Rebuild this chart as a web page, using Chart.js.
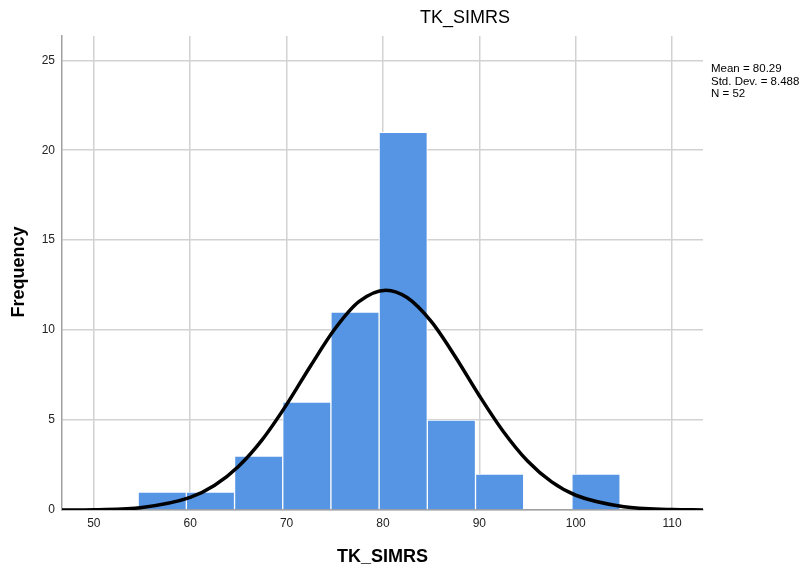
<!DOCTYPE html>
<html>
<head>
<meta charset="utf-8">
<script src="https://cdn.jsdelivr.net/npm/chart.js@4"></script>
<style>
  body { margin: 0; background: #fff; }
  canvas { display: block; }
</style>
</head>
<body>
<canvas id="myChart" width="806" height="569"></canvas>
<script>
// histogram bins (centres) and counts
const binCenters = [57.1, 62.1, 67.1, 72.1, 77.1, 82.1, 87.1, 92.1, 97.1, 102.1];
const counts = [1, 1, 3, 6, 11, 21, 5, 2, 0, 2];

// normal curve
const curveX = [46.7, 50, 55, 60, 62.5, 65, 67.5, 70, 72.5, 75, 77.5, 80.3, 82.5, 85, 87.5, 90, 92.5, 95, 97.5, 100, 105, 110, 113.2];
const curveY = [0.0, 0.02, 0.14, 0.7, 1.36, 2.42, 3.93, 5.86, 8.02, 10.06, 11.58, 12.22, 11.81, 10.48, 8.52, 6.35, 4.35, 2.72, 1.56, 0.82, 0.18, 0.03, 0.0];

const xTicks = [50, 60, 70, 80, 90, 100, 110];
const yTicks = [0, 5, 10, 15, 20, 25];
const statsLines = ['Mean = 80.29', 'Std. Dev. = 8.488', 'N = 52'];

const fontFam = '"Liberation Sans", Arial, sans-serif';

const textPlugin = {
    id: 'texts',
    afterDraw(chart) {
        const c = chart.ctx;
        const a = chart.chartArea;
        c.save();
        c.fillStyle = '#000';
        c.textBaseline = 'middle';
        // title
        c.font = '18px ' + fontFam;
        c.textAlign = 'center';
        c.fillText('TK_SIMRS', 465, 18);
        // x title
        c.font = 'bold 18px ' + fontFam;
        c.fillText('TK_SIMRS', (a.left + a.right) / 2, 557);
        // y title
        c.save();
        c.translate(19, 272);
        c.rotate(-Math.PI / 2);
        c.fillText('Frequency', 0, 0);
        c.restore();
        // stats
        c.font = '11.5px ' + fontFam;
        c.textAlign = 'left';
        statsLines.forEach((t, i) => c.fillText(t, a.right + 8, 69 + i * 12.5));
        c.restore();
    }
};

const ctx = document.getElementById('myChart').getContext('2d');
new Chart(ctx, {
    data: {
        datasets: [{
            type: 'line',
            data: curveX.map((x, i) => ({ x: x, y: curveY[i] })),
            borderColor: '#000',
            borderWidth: 3.5,
            pointRadius: 0,
            cubicInterpolationMode: 'monotone',
            fill: false,
            order: 0
        }, {
            type: 'bar',
            data: binCenters.map((x, i) => ({ x: x, y: counts[i] })),
            backgroundColor: '#5595e3',
            borderColor: '#ffffff',
            borderWidth: 1,
            borderSkipped: 'bottom',
            barPercentage: 1,
            categoryPercentage: 1,
            order: 1
        }]
    },
    options: {
        responsive: false,
        animation: false,
        devicePixelRatio: 1,
        layout: { padding: { top: 36, right: 103, left: 0, bottom: 0 } },
        plugins: {
            legend: { display: false },
            tooltip: { enabled: false }
        },
        scales: {
            x: {
                type: 'linear',
                min: 46.7,
                max: 113.2,
                offset: false,
                afterFit: s => { s.height = 59; },
                afterBuildTicks: s => { s.ticks = xTicks.map(v => ({ value: v })); },
                ticks: {
                    font: { family: fontFam, size: 12 },
                    color: '#222',
                    padding: 6,
                    maxRotation: 0
                },
                grid: { color: '#d2d2d2', lineWidth: 1.5, drawTicks: false, offset: false },
                border: { color: '#a0a0a0', width: 1.5 }
            },
            y: {
                min: 0,
                max: 26.35,
                afterFit: s => { s.width = 62; },
                afterBuildTicks: s => { s.ticks = yTicks.map(v => ({ value: v })); },
                ticks: {
                    font: { family: fontFam, size: 12 },
                    color: '#222',
                    padding: 7
                },
                grid: { color: '#d2d2d2', lineWidth: 1.5, drawTicks: false },
                border: { color: '#a0a0a0', width: 1.5 }
            }
        }
    },
    plugins: [textPlugin]
});
</script>
</body>
</html>
